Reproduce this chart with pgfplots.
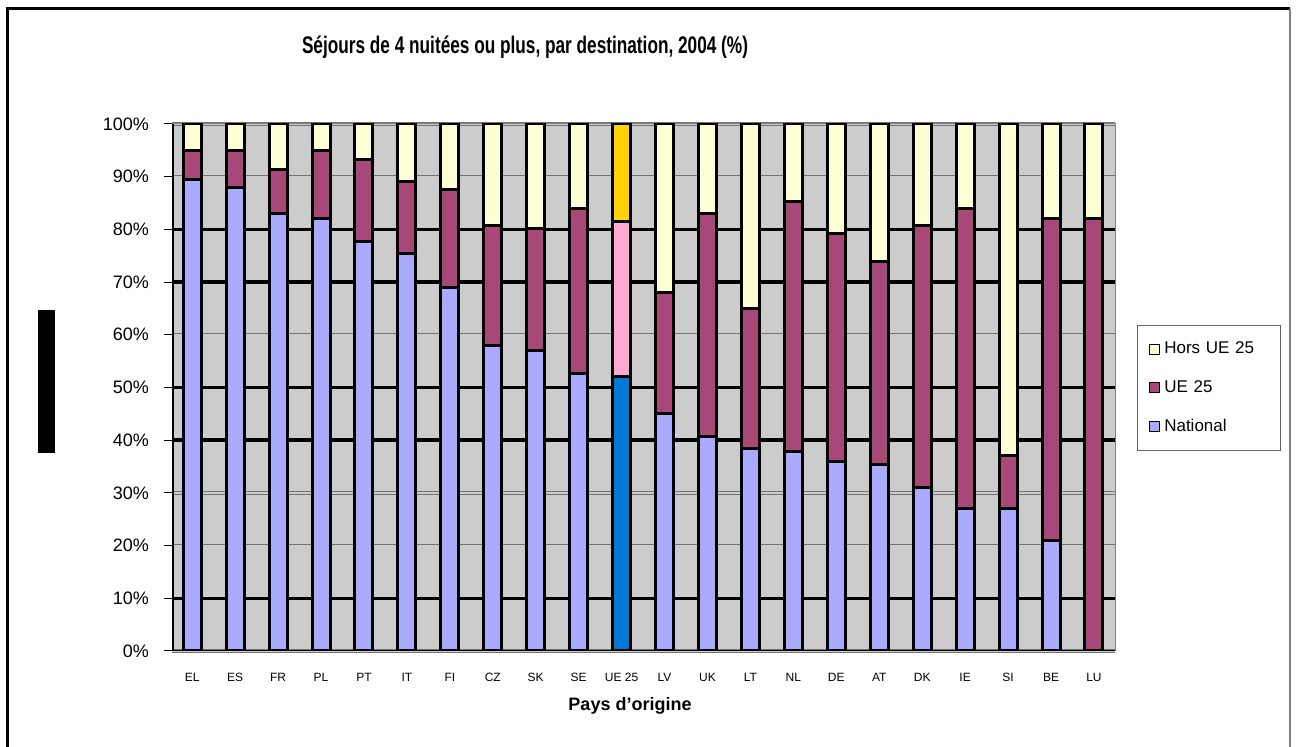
\documentclass[border=0pt]{standalone}
\usepackage{pgfplots}
\pgfplotsset{compat=1.18}
\usepackage{pgfplotstable}
\usepackage{fontspec}
\setmainfont{Liberation Sans}
\usepackage{graphicx}
\definecolor{natc}{RGB}{170,170,255}
\definecolor{uec}{RGB}{168,72,120}
\definecolor{horsc}{RGB}{255,255,213}
\definecolor{bgc}{RGB}{204,204,204}
\definecolor{eublue}{RGB}{0,122,214}
\definecolor{eupink}{RGB}{255,170,213}
\definecolor{eugold}{RGB}{255,210,0}
\pgfplotstableread{
x nat natEU ue ueEU hors horsEU
0 89.5 0 5.5 0 5 0
1 88 0 7 0 5 0
2 83 0 8.3 0 8.7 0
3 82 0 13 0 5 0
4 77.7 0 15.5 0 6.8 0
5 75.4 0 13.7 0 10.9 0
6 69 0 18.5 0 12.5 0
7 58 0 22.8 0 19.2 0
8 57 0 23.2 0 19.8 0
9 52.7 0 31.3 0 16 0
10 0 52 0 29.5 0 18.5
11 45 0 23 0 32 0
12 40.7 0 42.3 0 17 0
13 38.4 0 26.6 0 35 0
14 37.8 0 47.5 0 14.7 0
15 36 0 43.2 0 20.8 0
16 35.3 0 38.6 0 26.1 0
17 31 0 49.8 0 19.2 0
18 27 0 57 0 16 0
19 27 0 10 0 63 0
20 21 0 61 0 18 0
21 0 0 82 0 18 0
}\data
\begin{document}
\begin{tikzpicture}
\useasboundingbox (0,0) rectangle (648pt,373.5pt);
% outer frame
\draw[black, line width=1.5pt] (3.5pt,0) -- (3.5pt,369pt) -- (645pt,369pt);
\draw[black!50, line width=0.8pt] (645pt,369pt) -- (645pt,0);
% title
\node[font=\fontsize{12}{13}\selectfont\bfseries] at (262.5pt,350pt) {\resizebox{223pt}{\height}{Séjours de 4 nuitées ou plus, par destination, 2004 (\%)}};
% x label
\node[font=\fontsize{9}{10}\selectfont\bfseries] at (315pt,20.5pt) {Pays d'origine};
% blurred y label blob
\fill[black] (19pt,218.5pt) rectangle (27.5pt,147pt);
\begin{axis}[
  at={(86pt,48pt)}, anchor=south west,
  scale only axis, width=471.5pt, height=263.5pt,
  ybar stacked, bar width=9pt,
  xmin=-0.47, xmax=21.49, ymin=0, ymax=100,
  xtick={0,...,21},
  xticklabels={EL,ES,FR,PL,PT,IT,FI,CZ,SK,SE,UE 25,LV,UK,LT,NL,DE,AT,DK,IE,SI,BE,LU},
  x tick style={draw=none},
  minor xtick={-0.5,0.5,...,21.5},
  minor x tick style={black, line width=0.8pt},
  minor tick length=2pt,
  ytick={0,10,...,100},
  yticklabel={\pgfmathprintnumber{\tick}\%},
  /pgf/number format/assume math mode=true,
  ymajorgrids,
  major grid style={draw=black!55, double=bgc, double distance=1pt, line width=0.35pt},
  extra y ticks={10,40,50,70,80},
  extra y tick style={major grid style={draw=black, double=black, double distance=0.6pt, line width=0.55pt}, yticklabel={}},
  axis background/.style={fill=bgc},
  axis line style={draw=black!50, line width=0.5pt},
  tick align=outside, major tick length=4pt,
  y tick style={black, line width=0.5pt},
  tick pos=left,
  yticklabel style={font=\fontsize{9}{10}\selectfont, xshift=-4pt},
  xticklabel style={font=\fontsize{6}{7}\selectfont, yshift=-3.5pt},
  every axis plot/.append style={draw=black, line width=1.5pt},
  reverse legend,
  legend style={at={(1.0233,0.6186)}, anchor=north west, draw=black!60, line width=0.5pt,
    font=\fontsize{8.5}{9}\selectfont, row sep=8pt, inner xsep=6pt, inner ysep=6pt,
    cells={anchor=west, text width=50pt}},
  legend image code/.code={\draw[#1, draw=black, line width=0.4pt] (0pt,-2.5pt) rectangle (5pt,2.5pt);},
]
\addplot[fill=natc] table[x=x,y=nat]{\data};
\addlegendentry{National}
\addplot[fill=eublue, forget plot] table[x=x,y=natEU]{\data};
\addplot[fill=uec] table[x=x,y=ue]{\data};
\addlegendentry{UE 25}
\addplot[fill=eupink, forget plot] table[x=x,y=ueEU]{\data};
\addplot[fill=horsc] table[x=x,y=hors]{\data};
\addlegendentry{Hors UE 25}
\addplot[fill=eugold, forget plot] table[x=x,y=horsEU]{\data};
\draw[black, line width=1.6pt] (rel axis cs:0,0) -- (rel axis cs:0,1);
\draw[black, line width=1.2pt] (rel axis cs:0,0) -- (rel axis cs:1,0);
\end{axis}
\end{tikzpicture}
\end{document}
